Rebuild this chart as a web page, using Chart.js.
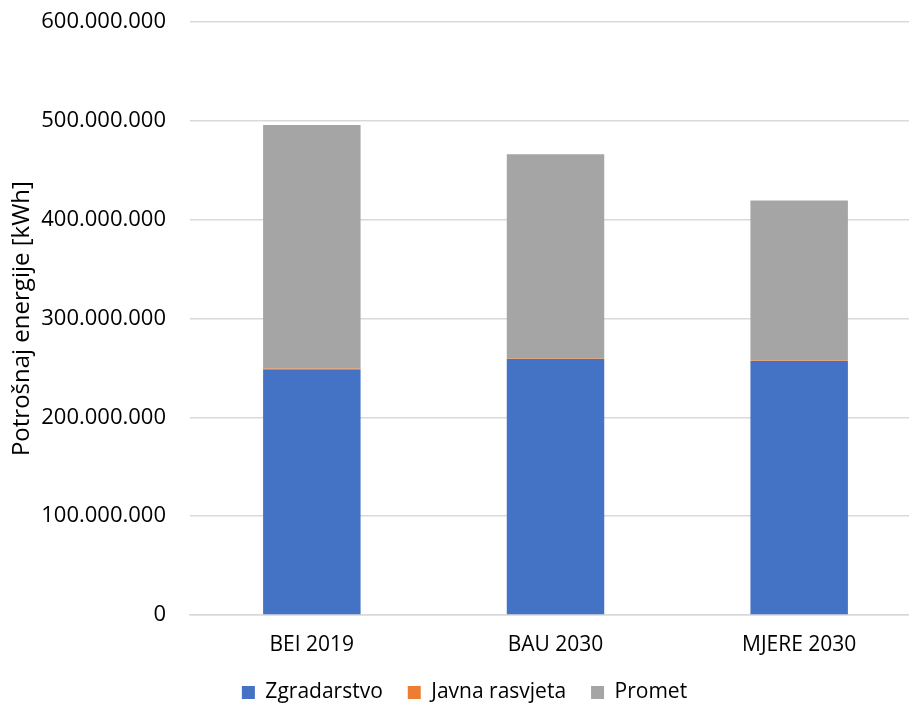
<!DOCTYPE html>
<html>
<head>
<meta charset="utf-8">
<script src="https://cdn.jsdelivr.net/npm/chart.js@4/dist/chart.umd.min.js"></script>
<style>
html,body{margin:0;padding:0;background:#fff;overflow:hidden;}
#wrap{width:921px;height:725px;margin-top:-15px;}
</style>
</head>
<body>
<div id="wrap"><canvas id="c"></canvas></div>
<script>
const categories = ["BEI 2019", "BAU 2030", "MJERE 2030"];
const zgradarstvo = [248000000, 259000000, 257000000];
const javnaRasvjeta = [1600000, 700000, 700000];
const promet = [246400000, 206700000, 161800000];
const seriesNames = ["Zgradarstvo", "Javna rasvjeta", "Promet"];
const yTitle = "Potrošnaj energije [kWh]";

function fmt(v){ return String(Math.round(v)).replace(/\B(?=(\d{3})+(?!\d))/g, "."); }

const FONT = "'Open Sans', sans-serif";
new Chart(document.getElementById('c'), {
  type: 'bar',
  data: {
    labels: categories,
    datasets: [
      {label: seriesNames[0], data: zgradarstvo, backgroundColor: '#4472C4'},
      {label: seriesNames[1], data: javnaRasvjeta, backgroundColor: '#ED7D31'},
      {label: seriesNames[2], data: promet, backgroundColor: '#A5A5A5'}
    ]
  },
  options: {
    responsive: true,
    maintainAspectRatio: false,
    animation: false,
    layout: {padding: {top: 0, left: 8, right: 0, bottom: -3}},
    datasets: {bar: {barPercentage: 0.4, categoryPercentage: 1.0, borderWidth: 0}},
    plugins: {
      legend: {
        position: 'bottom',
        labels: {boxWidth: 13, boxHeight: 13, padding: 25, color: '#000', font: {family: FONT, size: 21}}
      },
      tooltip: {enabled: false}
    },
    scales: {
      x: {
        stacked: true,
        afterFit: (axis) => { axis.height = 42; },
        grid: {display: false, drawTicks: false},
        border: {display: true, color: '#D9D9D9', width: 1.5},
        ticks: {color: '#000', padding: 17, font: {family: FONT, size: 21}}
      },
      y: {
        stacked: true,
        min: 0, max: 600000000,
        afterBuildTicks: (axis) => { axis.ticks = [0,1,2,3,4,5,6].map(i => ({value: i*100000000})); },
        afterFit: (axis) => { axis.width = 182; },
        grid: {color: '#D9D9D9', lineWidth: 1.5, drawTicks: false},
        border: {display: false},
        ticks: {color: '#000', padding: 24, font: {family: FONT, size: 22}, callback: (v) => fmt(v)},
        title: {display: true, text: yTitle, color: '#000', font: {family: FONT, size: 24}, padding: {top: 0, bottom: 9}}
      }
    }
  }
});
</script>
</body>
</html>
